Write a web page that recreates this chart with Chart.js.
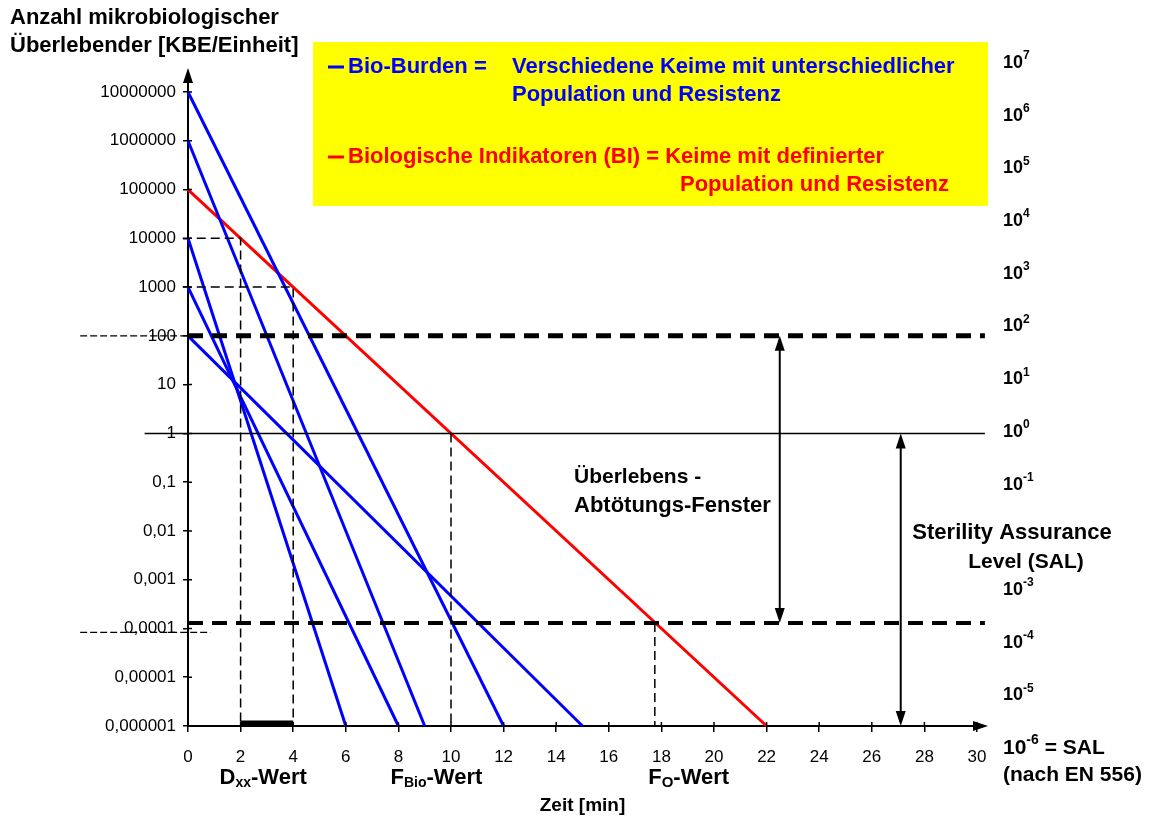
<!DOCTYPE html>
<html lang="de">
<head>
<meta charset="utf-8">
<title>Überlebenskurven</title>
<script src="https://cdn.jsdelivr.net/npm/chart.js@4.4.1/dist/chart.umd.min.js"></script>
<style>
  html, body { margin: 0; padding: 0; background: #fff; }
</style>
</head>
<body>
<canvas id="myChart" width="1152" height="824"></canvas>
<script>
// left axis ticks (KBE/Einheit)
const yTickValues = [10000000, 1000000, 100000, 10000, 1000, 100, 10, 1, 0.1, 0.01, 0.001, 0.0001, 0.00001, 0.000001];
// right axis: exponents shown as 10^n (10^-2 is covered by the SAL text)
const rightExponents = [7, 6, 5, 4, 3, 2, 1, 0, -1, -3, -4, -5];

// bio-burden: start count at t=0 and time [min] where 10^-6 is reached
const bioStart = [10000000, 1000000, 10000, 1000, 100];
const bioEnd = [12, 9, 6, 8, 15];
// biological indicator
const biStart = 100000;
const biEnd = 22;
const salLevel = 0.000001;

// survival / kill window
const windowTop = 100;
const windowBottom = 0.00013;
const windowBottomLeft = 0.000083;
// D-value guides
const dxxLevels = [10000, 1000];
const dxxTimes = [2, 4];
const fBio = 10;
const fO = 17.75;
const barLevel = 0.00000112;
// arrow positions in minutes
const windowArrowTime = 22.5;
const salArrowTime = 27.1;

const legendBio = ['Bio-Burden =', 'Verschiedene Keime mit unterschiedlicher', 'Population und Resistenz'];
const legendBI = ['Biologische Indikatoren (BI) = Keime mit definierter', 'Population und Resistenz'];

const fontFamily = '"Liberation Sans", Arial, sans-serif';
const BLUE = '#0000ff';
const RED = '#ff0000';

Chart.defaults.font.family = fontFamily;
Chart.defaults.color = '#000';

function formatTick(value) {
  if (value >= 1) {
    return String(Math.round(value));
  }
  const digits = Math.round(-Math.log10(value));
  return value.toFixed(digits).replace('.', ',');
}

function guide(data, width, dash, order) {
  return {
    label: 'guide',
    data: data,
    borderColor: '#000',
    borderWidth: width,
    borderDash: dash,
    borderCapStyle: 'butt',
    order: order
  };
}

let datasets = [];
for (let i = 0; i < bioStart.length; i++) {
  datasets.push({
    label: 'Bio-Burden',
    data: [{x: 0, y: bioStart[i]}, {x: bioEnd[i], y: salLevel}],
    borderColor: BLUE,
    borderWidth: 3,
    order: 2
  });
}
datasets.push({
  label: 'Biologische Indikatoren',
  data: [{x: 0, y: biStart}, {x: biEnd, y: salLevel}],
  borderColor: RED,
  borderWidth: 3,
  order: 2
});

// thick dashed window borders
datasets.push(guide([{x: 0, y: windowTop}, {x: 30.3, y: windowTop}], 5, [15, 9], 1));
datasets.push(guide([{x: 0, y: windowBottom}, {x: 30.3, y: windowBottom}], 4, [15, 9], 1));
// thin extensions left of the axis
datasets.push(guide([{x: -4.1, y: windowTop}, {x: 0, y: windowTop}], 1.3, [7, 3], 1));
datasets.push(guide([{x: -4.1, y: windowBottomLeft}, {x: 0.85, y: windowBottomLeft}], 1.3, [7, 3], 1));
// solid line at 1
datasets.push(guide([{x: -1.65, y: 1}, {x: 30.3, y: 1}], 1.5, [], 1));
// D-value boxes
for (let i = 0; i < dxxLevels.length; i++) {
  datasets.push(guide([{x: -0.2, y: dxxLevels[i]}, {x: dxxTimes[i], y: dxxLevels[i]}, {x: dxxTimes[i], y: salLevel}], 1.5, [9, 5], 1));
}
datasets.push(guide([{x: fBio, y: 1}, {x: fBio, y: salLevel}], 1.5, [9, 5], 1));
datasets.push(guide([{x: fO, y: windowBottom}, {x: fO, y: salLevel}], 1.5, [9, 5], 1));
// D-value bar on the time axis
datasets.push(guide([{x: dxxTimes[0], y: barLevel}, {x: dxxTimes[1], y: barLevel}], 6, [], 0));

function arrowHead(ctx, x, y, dir) {
  ctx.beginPath();
  if (dir === 'up') {
    ctx.moveTo(x, y); ctx.lineTo(x - 5, y + 15); ctx.lineTo(x + 5, y + 15);
  } else if (dir === 'down') {
    ctx.moveTo(x, y); ctx.lineTo(x - 5, y - 15); ctx.lineTo(x + 5, y - 15);
  } else {
    ctx.moveTo(x, y); ctx.lineTo(x - 15, y - 5); ctx.lineTo(x - 15, y + 5);
  }
  ctx.closePath();
  ctx.fill();
}

function doubleArrow(ctx, x, y1, y2) {
  ctx.beginPath();
  ctx.moveTo(x, y1 + 4);
  ctx.lineTo(x, y2 - 4);
  ctx.stroke();
  arrowHead(ctx, x, y1, 'up');
  arrowHead(ctx, x, y2, 'down');
}

// text with sub/superscripts: [text, size, shift]
function drawParts(ctx, x, y, parts) {
  for (let i = 0; i < parts.length; i++) {
    ctx.font = 'bold ' + parts[i][1] + 'px ' + fontFamily;
    ctx.fillText(parts[i][0], x, y + parts[i][2]);
    x += ctx.measureText(parts[i][0]).width;
  }
}

const extrasPlugin = {
  id: 'extras',
  afterDraw(chart) {
    const ctx = chart.ctx;
    const xs = chart.scales.x;
    const ys = chart.scales.y;
    const y2 = chart.scales.y2;
    const area = chart.chartArea;
    ctx.save();
    ctx.fillStyle = '#000';
    ctx.strokeStyle = '#000';
    ctx.lineWidth = 2;

    // axis arrows
    ctx.beginPath();
    ctx.moveTo(area.left, area.top);
    ctx.lineTo(area.left, area.top - 18);
    ctx.moveTo(area.right, area.bottom);
    ctx.lineTo(area.right + 6, area.bottom);
    ctx.stroke();
    arrowHead(ctx, area.left, area.top - 24, 'up');
    arrowHead(ctx, area.right + 11, area.bottom, 'right');

    // inner halves of the tick marks
    ctx.lineWidth = 1.5;
    ctx.beginPath();
    xs.ticks.forEach(function (t) {
      const px = xs.getPixelForValue(t.value);
      ctx.moveTo(px, area.bottom);
      ctx.lineTo(px, area.bottom - 4);
    });
    ys.ticks.forEach(function (t) {
      const py = ys.getPixelForValue(t.value);
      ctx.moveTo(area.left, py);
      ctx.lineTo(area.left + 4, py);
    });
    ctx.stroke();

    // window arrows
    ctx.lineWidth = 2;
    doubleArrow(ctx, xs.getPixelForValue(windowArrowTime), ys.getPixelForValue(windowTop), ys.getPixelForValue(windowBottom));
    doubleArrow(ctx, xs.getPixelForValue(salArrowTime), ys.getPixelForValue(1), ys.getPixelForValue(salLevel));

    ctx.textBaseline = 'middle';
    ctx.textAlign = 'left';

    // axis title top left
    ctx.font = 'bold 22px ' + fontFamily;
    ctx.fillText('Anzahl mikrobiologischer', 10, 18);
    ctx.fillText('Überlebender [KBE/Einheit]', 10, 46);

    // legend box
    ctx.fillStyle = '#ffff00';
    ctx.fillRect(313, 42, 675, 164);
    ctx.lineWidth = 3;
    ctx.strokeStyle = BLUE;
    ctx.beginPath();
    ctx.moveTo(328, 67);
    ctx.lineTo(344, 67);
    ctx.stroke();
    ctx.strokeStyle = RED;
    ctx.beginPath();
    ctx.moveTo(328, 157);
    ctx.lineTo(344, 157);
    ctx.stroke();
    ctx.font = 'bold 22px ' + fontFamily;
    ctx.fillStyle = BLUE;
    ctx.fillText(legendBio[0], 348, 67);
    ctx.fillText(legendBio[1], 512, 67);
    ctx.fillText(legendBio[2], 512, 95);
    ctx.fillStyle = RED;
    ctx.fillText(legendBI[0], 348, 157);
    ctx.fillText(legendBI[1], 680, 185);

    // right axis labels
    ctx.fillStyle = '#000';
    rightExponents.forEach(function (e) {
      const py = y2.getPixelForValue(Math.pow(10, e));
      drawParts(ctx, 1003, py, [['10', 18, 0], [String(e), 12, -7]]);
    });
    const salY = y2.getPixelForValue(salLevel);
    drawParts(ctx, 1003, salY, [['10', 21, 0], ['-6', 14, -8], [' = SAL', 21, 0]]);
    drawParts(ctx, 1003, salY + 27, [['(nach EN 556)', 21, 0]]);

    // annotations
    drawParts(ctx, 574, 477, [['Überlebens -', 21, 0]]);
    drawParts(ctx, 574, 506, [['Abtötungs-Fenster', 22, 0]]);
    ctx.textAlign = 'center';
    ctx.font = 'bold 22px ' + fontFamily;
    ctx.fillText('Sterility Assurance', 1012, 533);
    ctx.font = 'bold 21px ' + fontFamily;
    ctx.fillText('Level (SAL)', 1026, 562);
    ctx.textAlign = 'left';

    const labelY = area.bottom + 52;
    drawParts(ctx, xs.getPixelForValue(1.2), labelY, [['D', 22, 0], ['xx', 14, 5], ['-Wert', 22, 0]]);
    drawParts(ctx, xs.getPixelForValue(7.7), labelY, [['F', 22, 0], ['Bio', 14, 5], ['-Wert', 22, 0]]);
    drawParts(ctx, xs.getPixelForValue(17.5), labelY, [['F', 22, 0], ['O', 15, 5], ['-Wert', 22, 0]]);
    ctx.restore();
  }
};

const ctx = document.getElementById('myChart').getContext('2d');
const chart = new Chart(ctx, {
  type: 'line',
  data: { datasets: datasets },
  options: {
    responsive: false,
    animation: false,
    devicePixelRatio: 1,
    clip: false,
    elements: {
      point: { radius: 0 },
      line: { tension: 0, fill: false }
    },
    layout: { padding: { top: 92, right: 175, left: 0, bottom: 0 } },
    plugins: {
      legend: { display: false },
      tooltip: { enabled: false }
    },
    scales: {
      x: {
        type: 'linear',
        min: 0,
        max: 30,
        ticks: { stepSize: 2, font: { size: 17 }, color: '#000', padding: 15, maxRotation: 0, autoSkip: false },
        grid: { drawOnChartArea: false, tickLength: 6, color: '#000', lineWidth: 1.5 },
        border: { color: '#000', width: 2 },
        title: { display: true, text: 'Zeit [min]', font: { size: 19, weight: 'bold' }, color: '#000', padding: { top: 0, bottom: 7 } },
        afterFit: function (scale) { scale.height = 98; }
      },
      y: {
        type: 'logarithmic',
        min: 0.000001,
        max: 10000000,
        afterBuildTicks: function (scale) {
          scale.ticks = yTickValues.map(function (v) { return { value: v }; });
        },
        ticks: { callback: formatTick, font: { size: 17 }, color: '#000', padding: 7, autoSkip: false },
        grid: { drawOnChartArea: false, tickLength: 5, color: '#000', lineWidth: 1.5 },
        border: { color: '#000', width: 2 },
        afterFit: function (scale) { scale.width = 188; }
      },
      y2: {
        type: 'logarithmic',
        display: false,
        position: 'right',
        min: Math.pow(10, -5.58),
        max: Math.pow(10, 6.45)
      }
    }
  },
  plugins: [extrasPlugin]
});
</script>
</body>
</html>
